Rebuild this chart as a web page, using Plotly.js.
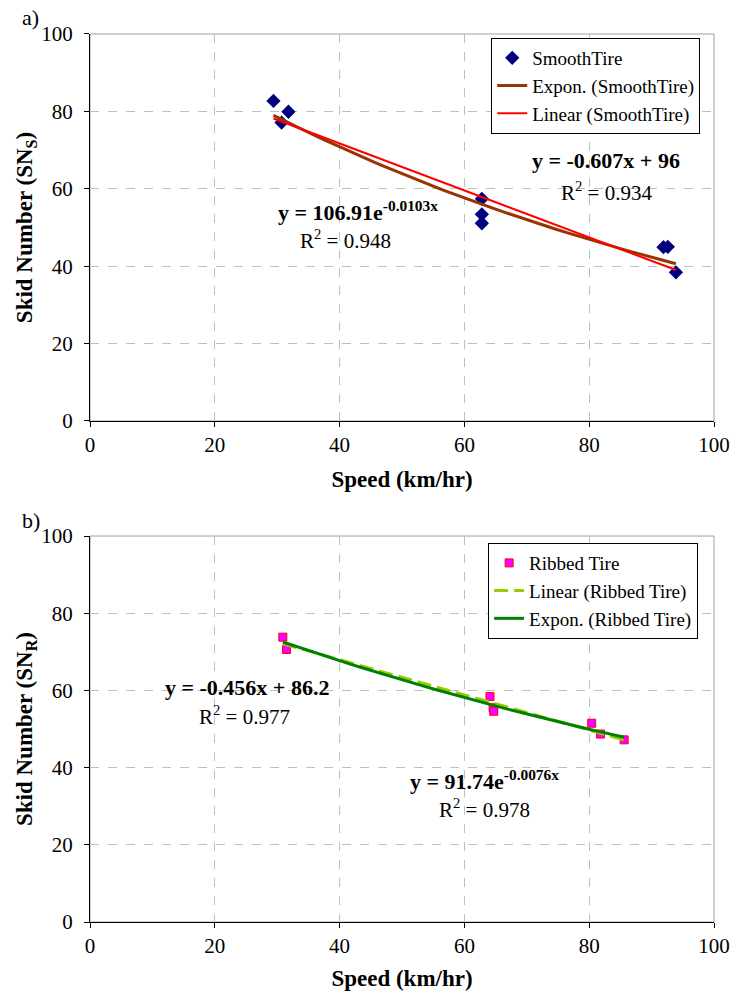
<!DOCTYPE html>
<html>
<head>
<meta charset="utf-8">
<script src="https://cdn.plot.ly/plotly-3.0.1.min.js"></script>
<style>
  html, body { margin: 0; padding: 0; background: #fff; }
  #chart { width: 730px; height: 991px; }
</style>
</head>
<body>
<div id="chart"></div>
<script>
// Smooth tire measurements: speed (km/hr) vs skid number
const smoothSpeed = [29.4, 30.7, 31.8, 62.8, 62.8, 62.8, 91.9, 92.6, 93.9];
const smoothSkid  = [82.7, 77.1, 79.9, 57.4, 53.4, 51.1, 44.9, 45.0, 38.4];

// Ribbed tire measurements
const ribbedSpeed = [30.9, 31.5, 64.1, 64.6, 64.7, 80.4, 81.8, 85.6];
const ribbedSkid  = [73.8, 70.6, 58.4, 55.5, 54.6, 51.5, 48.7, 47.2];

// Trendline coefficients as printed on the chart
const smoothLinear = [-0.607, 96];      // slope, intercept
const smoothExpon  = [106.91, -0.0103]; // a, b in a*e^(bx)
const ribbedLinear = [-0.456, 86.2];
const ribbedExpon  = [91.74, -0.0076];

const tickVals = [0, 20, 40, 60, 80, 100];

function range(arr) { return [Math.min(...arr), Math.max(...arr)]; }
function linePts(coef, xs) {
  const [lo, hi] = range(xs);
  return { x: [lo, hi], y: [coef[0] * lo + coef[1], coef[0] * hi + coef[1]] };
}
function expPts(coef, xs) {
  const [lo, hi] = range(xs);
  const n = 40, x = [], y = [];
  for (let i = 0; i <= n; i++) {
    const v = lo + (hi - lo) * i / n;
    x.push(v); y.push(coef[0] * Math.exp(coef[1] * v));
  }
  return { x, y };
}

const serif = '"Liberation Serif", serif';

const sLin = linePts(smoothLinear, smoothSpeed);
const sExp = expPts(smoothExpon, smoothSpeed);
const rLin = linePts(ribbedLinear, ribbedSpeed);
const rExp = expPts(ribbedExpon, ribbedSpeed);

const traces = [
  { x: smoothSpeed, y: smoothSkid, mode: 'markers', type: 'scatter', name: 'SmoothTire',
    xaxis: 'x', yaxis: 'y', legend: 'legend',
    marker: { symbol: 'diamond', size: 11, color: '#000080' } },
  { x: sExp.x, y: sExp.y, mode: 'lines', type: 'scatter', name: 'Expon. (SmoothTire)',
    xaxis: 'x', yaxis: 'y', legend: 'legend',
    line: { color: '#993300', width: 3 } },
  { x: sLin.x, y: sLin.y, mode: 'lines', type: 'scatter', name: 'Linear (SmoothTire)',
    xaxis: 'x', yaxis: 'y', legend: 'legend',
    line: { color: '#FF0000', width: 2 } },

  { x: ribbedSpeed, y: ribbedSkid, mode: 'markers', type: 'scatter', name: 'Ribbed Tire',
    xaxis: 'x2', yaxis: 'y2', legend: 'legend2',
    marker: { symbol: 'square', size: 8, color: '#FF00FF', line: { color: '#FF0000', width: 1 } } },
  { x: rLin.x, y: rLin.y, mode: 'lines', type: 'scatter', name: 'Linear (Ribbed Tire)',
    xaxis: 'x2', yaxis: 'y2', legend: 'legend2',
    line: { color: '#99CC00', width: 3, dash: '14px,6px' } },
  { x: rExp.x, y: rExp.y, mode: 'lines', type: 'scatter', name: 'Expon. (Ribbed Tire)',
    xaxis: 'x2', yaxis: 'y2', legend: 'legend2',
    line: { color: '#008000', width: 3 } }
];

function xAxis(anchor) {
  return {
    anchor: anchor, domain: [0, 1], range: [0, 100], tickvals: tickVals,
    showgrid: true, gridcolor: '#c0c0c0', griddash: 'dash', gridwidth: 1,
    zeroline: false, showline: true, linecolor: '#000', linewidth: 1,
    ticks: 'outside', ticklen: 5, tickcolor: '#000',
    tickfont: { family: serif, size: 21, color: '#000' },
    title: { text: '<b>Speed (km/hr)</b>', font: { family: serif, size: 23, color: '#000' }, standoff: 14 }
  };
}
function yAxis(anchor, domain, sub) {
  return {
    anchor: anchor, domain: domain, range: [0, 100], tickvals: tickVals,
    showgrid: true, gridcolor: '#c0c0c0', griddash: 'dash', gridwidth: 1,
    zeroline: false, showline: true, linecolor: '#000', linewidth: 1,
    ticks: 'outside', ticklen: 5, tickcolor: '#000', ticklabelstandoff: 7,
    tickfont: { family: serif, size: 21, color: '#000' },
    title: { text: '<b>Skid Number (SN<sub>' + sub + '</sub>)</b>', font: { family: serif, size: 23, color: '#000' }, standoff: 2 }
  };
}

const topDom = [0.5752, 0.9657];
const botDom = [0.0696, 0.4591];

function frame(xr, yr) {
  return { type: 'rect', xref: xr + ' domain', yref: yr + ' domain', x0: 0, x1: 1, y0: 0, y1: 1,
           line: { color: '#a0a0a0', width: 1 }, layer: 'below' };
}

const eqFont = { family: serif, size: 22, color: '#000' };
const r2Font = { family: serif, size: 21, color: '#000' };
const annotations = [
  { xref: 'paper', yref: 'paper', x: -0.112, y: 0.982, xanchor: 'left', yanchor: 'middle', showarrow: false,
    text: 'a)', font: { family: serif, size: 22, color: '#000' } },
  { xref: 'paper', yref: 'paper', x: -0.112, y: 0.475, xanchor: 'left', yanchor: 'middle', showarrow: false,
    text: 'b)', font: { family: serif, size: 22, color: '#000' } },

  { xref: 'x', yref: 'y', x: 82.7, y: 67.2, showarrow: false, font: eqFont,
    text: '<b>y = ' + smoothLinear[0] + 'x + ' + smoothLinear[1] + '</b>' },
  { xref: 'x', yref: 'y', x: 82.7, y: 59.2, showarrow: false, font: r2Font,
    text: 'R<sup>2</sup> = 0.934' },
  { xref: 'x', yref: 'y', x: 43.0, y: 54.3, showarrow: false, font: eqFont,
    text: '<b>y = ' + smoothExpon[0] + 'e<sup>' + smoothExpon[1] + 'x</sup></b>' },
  { xref: 'x', yref: 'y', x: 41.0, y: 47.0, showarrow: false, font: r2Font,
    text: 'R<sup>2</sup> = 0.948' },

  { xref: 'x2', yref: 'y2', x: 25.1, y: 60.8, showarrow: false, font: eqFont,
    text: '<b>y = ' + ribbedLinear[0] + 'x + ' + ribbedLinear[1] + '</b>' },
  { xref: 'x2', yref: 'y2', x: 24.8, y: 53.6, showarrow: false, font: r2Font,
    text: 'R<sup>2</sup> = 0.977' },
  { xref: 'x2', yref: 'y2', x: 63.2, y: 36.8, showarrow: false, font: eqFont,
    text: '<b>y = ' + ribbedExpon[0] + 'e<sup>' + ribbedExpon[1] + 'x</sup></b>' },
  { xref: 'x2', yref: 'y2', x: 63.2, y: 29.5, showarrow: false, font: r2Font,
    text: 'R<sup>2</sup> = 0.978' }
];

const legendStyle = {
  xanchor: 'left', yanchor: 'top', bgcolor: '#fff', bordercolor: '#000', borderwidth: 1,
  font: { family: serif, size: 19, color: '#000' }, tracegroupgap: 0, itemwidth: 30,
  entrywidth: 200, entrywidthmode: 'pixels'
};

const layout = {
  width: 730, height: 991,
  margin: { l: 90, r: 16, t: 0, b: 0 },
  paper_bgcolor: '#fff', plot_bgcolor: '#fff',
  showlegend: true,
  xaxis: xAxis('y'),
  yaxis: yAxis('x', topDom, 'S'),
  xaxis2: xAxis('y2'),
  yaxis2: yAxis('x2', botDom, 'R'),
  legend: Object.assign({ x: 0.643, y: 0.9617 }, legendStyle),
  legend2: Object.assign({ x: 0.638, y: 0.452 }, legendStyle),
  shapes: [frame('x', 'y'), frame('x2', 'y2')],
  annotations: annotations
};

Plotly.newPlot('chart', traces, layout, { displayModeBar: false, staticPlot: true });
</script>
</body>
</html>
